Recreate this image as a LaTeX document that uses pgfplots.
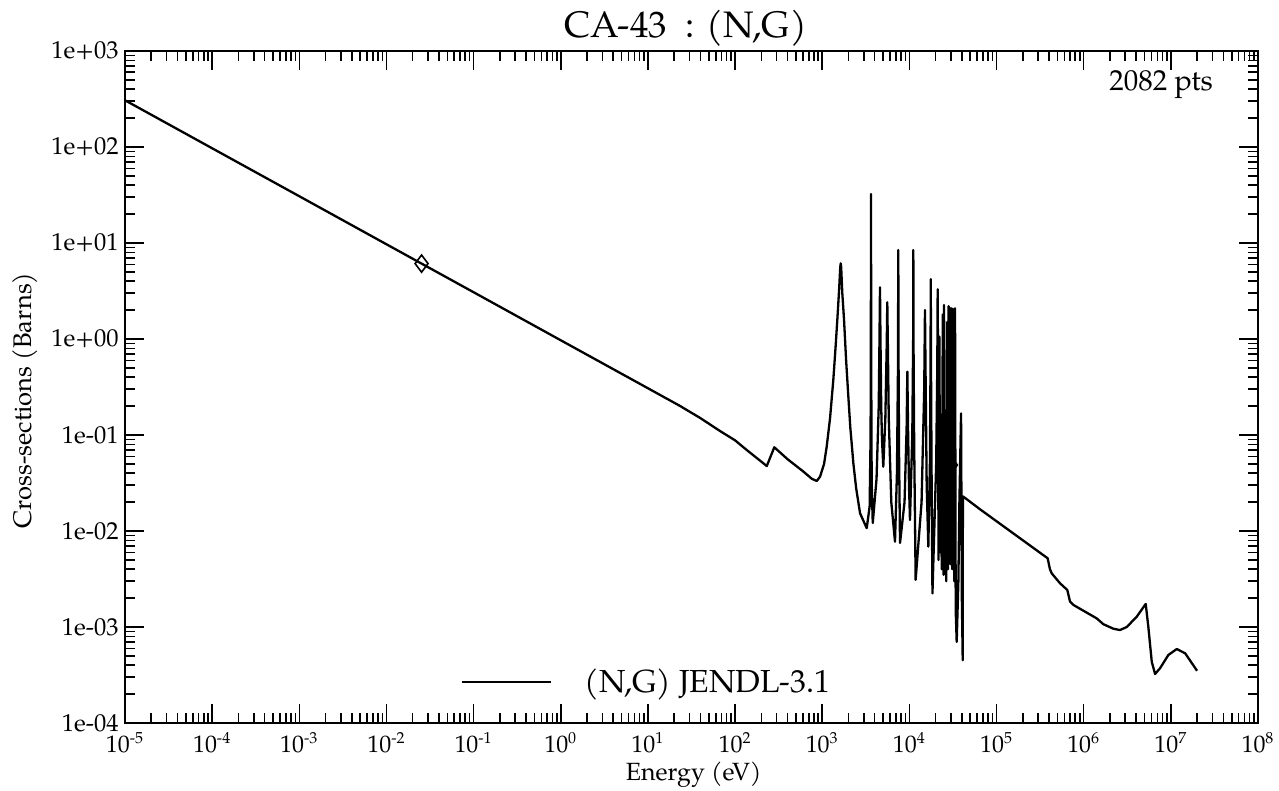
\documentclass[border=0pt]{standalone}
\usepackage{fontspec}
\setmainfont{TeX Gyre Pagella}
\usepackage{pgfplots}
\pgfplotsset{compat=1.18}
\begin{document}
\begin{tikzpicture}
\useasboundingbox (-62.5bp,-34bp) rectangle (577bp,361.5bp);
\begin{axis}[
  at={(0,0)}, anchor=south west,
  scale only axis, width=566.5bp, height=336bp,
  clip mode=individual,
  xmode=log, ymode=log,
  xmin=1e-5, xmax=1e8, ymin=1e-4, ymax=1e3,
  axis line style={line width=1.2bp},
  tick style={line width=0.8bp, black},
  major tick length=9.5bp, minor tick length=4.8bp,
  tick align=inside,
  xtick={1e-5,1e-4,1e-3,1e-2,1e-1,1,10,100,1e3,1e4,1e5,1e6,1e7,1e8},
  xticklabels={10\textsuperscript{-5},10\textsuperscript{-4},10\textsuperscript{-3},10\textsuperscript{-2},10\textsuperscript{-1},10\textsuperscript{0},10\textsuperscript{1},10\textsuperscript{2},10\textsuperscript{3},10\textsuperscript{4},10\textsuperscript{5},10\textsuperscript{6},10\textsuperscript{7},10\textsuperscript{8}},
  ytick={1e-4,1e-3,1e-2,1e-1,1,10,100,1e3},
  yticklabels={1e-04,1e-03,1e-02,1e-01,1e+00,1e+01,1e+02,1e+03},
  xticklabel style={font=\fontsize{12}{13}\selectfont, anchor=base, yshift=-14.5bp},
  yticklabel style={font=\fontsize{12.3}{13}\selectfont, anchor=east, inner sep=0pt, xshift=-3bp},
  xlabel={Energy (eV)},
  ylabel={Cross-sections (Barns)},
  xlabel style={font=\fontsize{12.5}{13}\selectfont, at={(axis description cs:0.502,0)}, anchor=base, yshift=-28.5bp},
  ylabel style={font=\fontsize{12.8}{13}\selectfont, at={(axis description cs:-0.0883,0.48)}, anchor=center},
  legend style={draw=none, fill=none, inner sep=0pt, nodes={inner sep=0pt, font=\fontsize{16}{17}\selectfont},
    at={(axis description cs:0.2957,0.061)}, anchor=west},
  legend image code/.code={\draw[#1] (0bp,0bp) -- (44.5bp,0bp); \path (61bp,0bp);},
]
\addplot[black, line width=1.15bp, line join=round] coordinates {
(1e-5,306.8) (1e-4,97.0) (1e-3,30.7) (1e-2,9.70) (0.0253,6.10) (0.1,3.07) (1,0.970) (10,0.307)
(23.3,0.201) (40,0.150) (67.2,0.110) (100,0.088) (136,0.0698) (180,0.057) (231,0.0475)
(282,0.0745) (400,0.0560) (600,0.0420) (760,0.0350) (865,0.0332) (944,0.0368) (1050,0.050)
(1125,0.0755) (1230,0.15) (1340,0.374) (1420,0.8)
(1490,1.58) (1560,3.2) (1610,5.6) (1630,6.15) (1650,5.6) (1700,3.0) (1780,1.58) (1880,0.6)
(1995,0.25) (2100,0.12) (2277,0.0507) (2450,0.028)
(2717,0.0153) (3240,0.0107) (3500,0.018) (3590,0.1) (3615,1.2) (3630,32.4) (3645,1.2) (3670,0.1)
(3700,0.03) (3800,0.0121) (4200,0.035) (4450,0.2) (4540,1.0) (4600,3.46) (4660,1.0) (4750,0.2)
(4850,0.09) (5020,0.0468) (5300,0.15) (5500,0.9) (5580,2.41) (5660,0.9) (5800,0.15) (6200,0.02)
(6840,0.00775) (7200,0.04) (7400,0.5) (7460,8.45) (7520,0.5) (7620,0.06) (7810,0.0075)
(8800,0.02) (9300,0.12) (9480,0.456) (9650,0.12) (9900,0.03) (10160,0.013) (10800,0.1)
(11050,1.0) (11100,8.45) (11150,1.0) (11350,0.08) (11800,0.0031) (13800,0.02) (14800,0.3)
(15100,2.0) (15400,0.3) (15800,0.03) (16500,0.00687) (17200,0.05) (17500,0.6) (17600,4.2)
(17700,0.6) (17950,0.05) (18400,0.00224) (20300,0.05) (20900,0.5) (21130,3.3) (21350,0.3) (21600,0.005)
(22080,1.06) (22600,0.006) (23000,0.12) (23500,0.004) (24200,1.8) (24700,0.0035) (25000,2.26)
(25400,0.005) (26000,0.18) (26500,0.003) (27200,1.5) (27700,0.004) (28200,2.2) (28700,0.006)
(29240,2.1) (29700,0.0045) (30300,0.5) (30620,2.09) (31000,0.004) (31600,0.08) (32200,2.05)
(32700,0.003) (33420,2.09) (34000,0.0015) (34910,0.0007) (36500,0.003) (37500,0.02)
(39170,0.168) (40000,0.002) (40930,0.00045) (41100,0.0228) (41600,0.0228) (64700,0.01683)
(386000,0.0052) (410000,0.0040) (430000,0.00362) (536000,0.00285) (649000,0.00243)
(697000,0.00184) (760000,0.00170) (1.41e6,0.00123) (1.68e6,0.00107) (2.19e6,0.00096)
(2.61e6,0.00093) (3.12e6,0.00100) (4.06e6,0.00128) (5.15e6,0.00174) (5.52e6,0.00100)
(6.04e6,0.000435) (6.59e6,0.000324) (7.52e6,0.000372) (9.36e6,0.000511) (1.17e7,0.00059)
(1.46e7,0.000532) (2.0e7,0.00035)
};
\addlegendentry{(N,G) JENDL-3.1}
\addplot[only marks, mark=diamond, mark size=4.3bp, mark options={black, line width=0.8bp}, forget plot]
  coordinates {(0.0253,6.10) (3.0e4,0.0487)};
\node[anchor=base east, font=\fontsize{14.5}{15}\selectfont] at (rel axis cs:1,1) [xshift=-19bp, yshift=-19.5bp] {2082 pts};
\node[anchor=base, font=\fontsize{18.5}{19}\selectfont] at (rel axis cs:0.495,1) [yshift=7bp] {CA-43\ \ : (N,G)};
\end{axis}
\end{tikzpicture}
\end{document}
